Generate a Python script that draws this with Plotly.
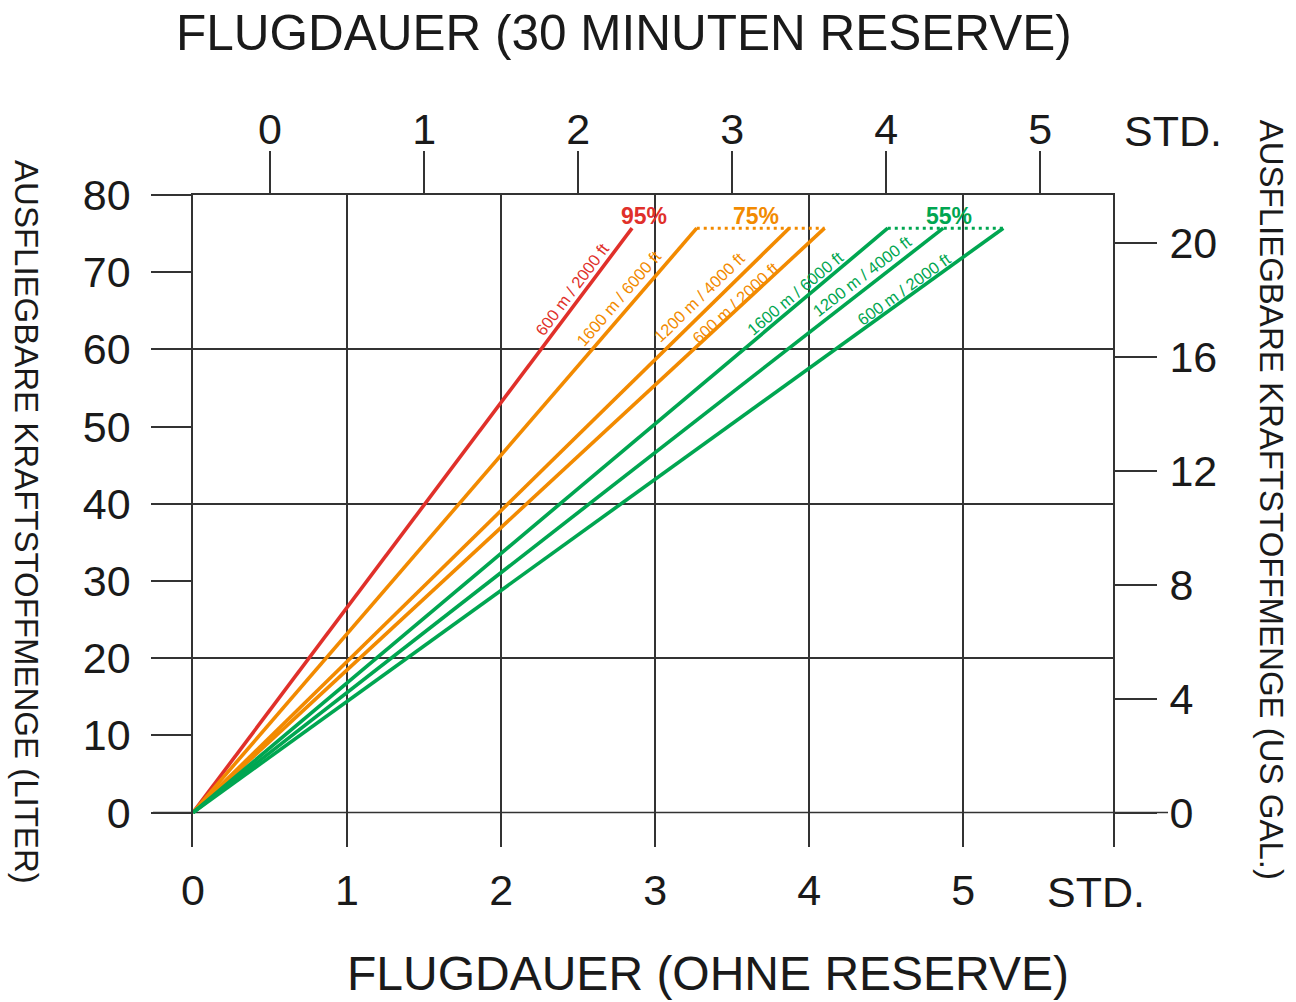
import math
import plotly.graph_objects as go

# ---------------- data ----------------
usable_fuel_l = 75.7                      # litres (= 20 US gal) at the end of each line
altitudes = ["1600 m / 6000 ft", "1200 m / 4000 ft", "600 m / 2000 ft"]
power_95_alt = ["600 m / 2000 ft"]
power_95_hours = [2.85]
power_75_hours = [3.27, 3.87, 4.10]
power_55_hours = [4.51, 4.87, 5.26]

bottom_ticks = [0, 1, 2, 3, 4, 5]
top_ticks = [0, 1, 2, 3, 4, 5]
liter_ticks = [0, 10, 20, 30, 40, 50, 60, 70, 80]
liter_grid = [20, 40, 60]
gal_ticks = [0, 4, 8, 12, 16, 20]
reserve_h = 0.5

# ---------------- style / layout ----------------
RED, ORANGE, GREEN = "#e0302a", "#f28a00", "#00a651"
INK = "#1a1a1a"
GRID = "#333333"
FONT = "Liberation Sans, Arial, sans-serif"

W, H = 1296, 1002
L, R, T, B = 193, 183.3, 195, 155
pw, ph = W - L - R, H - T - B
px_per_h = 154.0
px_per_l = 7.71875
px_per_gal = 28.5
x_range = [0, pw / px_per_h]
y0_px_from_bottom = 34.5
y_range = [-y0_px_from_bottom / px_per_l, (ph - y0_px_from_bottom) / px_per_l]
y2_range = [-y0_px_from_bottom / px_per_gal, (ph - y0_px_from_bottom) / px_per_gal]

fig = go.Figure()

def add_line(hours, color, name):
    fig.add_trace(go.Scatter(x=[0, hours], y=[0, usable_fuel_l], mode="lines",
                             line=dict(color=color, width=3.6), name=name,
                             showlegend=False, hoverinfo="skip"))

for h, a in zip(power_95_hours, power_95_alt):
    add_line(h, RED, "95% " + a)
for h, a in zip(power_75_hours, altitudes):
    add_line(h, ORANGE, "75% " + a)
for h, a in zip(power_55_hours, altitudes):
    add_line(h, GREEN, "55% " + a)

# dotted connections at max fuel level
for hrs, col in [(power_75_hours, ORANGE), (power_55_hours, GREEN)]:
    fig.add_trace(go.Scatter(x=[min(hrs), max(hrs)], y=[usable_fuel_l, usable_fuel_l],
                             mode="lines", line=dict(color=col, width=3, dash="3px,4px"),
                             showlegend=False, hoverinfo="skip"))

# dummy traces so the auxiliary axes are created
fig.add_trace(go.Scatter(x=[None], y=[None], xaxis="x2", yaxis="y", showlegend=False))
fig.add_trace(go.Scatter(x=[None], y=[None], xaxis="x", yaxis="y2", showlegend=False))
fig.add_trace(go.Scatter(x=[None], y=[None], xaxis="x", yaxis="y3", showlegend=False))

tickfont = dict(family=FONT, size=43, color=INK)

fig.update_layout(
    width=W, height=H, margin=dict(l=L, r=R, t=T, b=B),
    paper_bgcolor="white", plot_bgcolor="white", showlegend=False,
    xaxis=dict(range=x_range, tickvals=bottom_ticks, ticktext=[str(v) for v in bottom_ticks],
               showgrid=True, gridcolor=GRID, gridwidth=1.6, zeroline=False,
               showline=False, ticks="", tickfont=tickfont, ticklabelstandoff=14,
               fixedrange=True),
    xaxis2=dict(overlaying="x", side="top", anchor="y",
                range=[x_range[0] - reserve_h, x_range[1] - reserve_h],
                tickvals=top_ticks, ticktext=[str(v) for v in top_ticks],
                showgrid=False, zeroline=False, showline=True, linecolor=GRID, linewidth=1.6,
                ticks="outside", ticklen=42, tickwidth=1.6, tickcolor=GRID,
                tickfont=tickfont, ticklabelstandoff=-10),
    yaxis=dict(range=y_range, tickvals=liter_ticks, ticktext=[str(v) for v in liter_ticks],
               showgrid=False, zeroline=False, showline=True, linecolor=GRID, linewidth=1.6,
               ticks="outside", ticklen=40, tickwidth=1.6, tickcolor=GRID,
               tickfont=tickfont, ticklabelstandoff=12),
    yaxis2=dict(overlaying="y", side="right", anchor="x", range=y2_range,
                tickvals=gal_ticks, ticktext=[str(v) for v in gal_ticks],
                showgrid=False, zeroline=False, showline=True, linecolor=GRID, linewidth=1.6,
                ticks="outside", ticklen=42, tickwidth=1.6, tickcolor=GRID,
                tickfont=tickfont, ticklabelstandoff=4),
    yaxis3=dict(overlaying="y", side="left", anchor="x", range=y_range,
                tickvals=liter_grid, showticklabels=False, ticks="",
                showgrid=True, gridcolor=GRID, gridwidth=1.6, zeroline=False, showline=False),
)

# zero line, extended beyond the frame on both sides
fig.add_shape(type="line", xref="paper", yref="y", x0=-40 / pw, x1=1 + 55 / pw, y0=0, y1=0,
              line=dict(color=GRID, width=1.6), layer="below")

def paper_x(px):
    return (px - L) / pw

def paper_y(py):
    return (H - B - py) / ph

ann = []
ann.append(dict(text="FLUGDAUER (30 MINUTEN RESERVE)", x=paper_x(624), y=paper_y(32),
                font=dict(family=FONT, size=49.5, color=INK)))
ann.append(dict(text="FLUGDAUER (OHNE RESERVE)", x=paper_x(708), y=paper_y(973),
                font=dict(family=FONT, size=48, color=INK)))
ann.append(dict(text="AUSFLIEGBARE KRAFTSTOFFMENGE (LITER)", x=paper_x(27), y=paper_y(522),
                textangle=90, font=dict(family=FONT, size=33, color=INK)))
ann.append(dict(text="AUSFLIEGBARE KRAFTSTOFFMENGE (US GAL.)", x=paper_x(1272), y=paper_y(500),
                textangle=90, font=dict(family=FONT, size=33, color=INK)))
ann.append(dict(text="STD.", x=paper_x(1173), y=paper_y(131), font=tickfont))
ann.append(dict(text="STD.", x=paper_x(1096), y=paper_y(892), font=tickfont))
for a in ann:
    a.update(xref="paper", yref="paper", showarrow=False, xanchor="center", yanchor="middle")
    fig.add_annotation(**a)

# percentage labels
pct_labels = [("95%", 643.7, RED), ("75%", 755.8, ORANGE), ("55%", 949.2, GREEN)]
for txt, px, col in pct_labels:
    fig.add_annotation(text="<b>" + txt + "</b>", x=(px - L) / px_per_h,
                       y=(812.5 - 216) / px_per_l, xref="x", yref="y", showarrow=False,
                       xanchor="center", yanchor="middle",
                       font=dict(family=FONT, size=23, color=col))

# rotated altitude labels along each line
line_labels = [
    ("600 m / 2000 ft", power_95_hours[0], RED, 572.3, 289.3),
    ("1600 m / 6000 ft", power_75_hours[0], ORANGE, 619.0, 298.3),
    ("1200 m / 4000 ft", power_75_hours[1], ORANGE, 699.0, 296.7),
    ("600 m / 2000 ft", power_75_hours[2], ORANGE, 735.0, 302.5),
    ("1600 m / 6000 ft", power_55_hours[0], GREEN, 795.0, 292.7),
    ("1200 m / 4000 ft", power_55_hours[1], GREEN, 861.7, 275.7),
    ("600 m / 2000 ft", power_55_hours[2], GREEN, 904.0, 289.3),
]
for txt, hrs, col, px, py in line_labels:
    ang = math.degrees(math.atan2(usable_fuel_l * px_per_l, hrs * px_per_h))
    fig.add_annotation(text=txt, x=(px - L) / px_per_h, y=(812.5 - py) / px_per_l,
                       xref="x", yref="y", showarrow=False, textangle=-ang,
                       xanchor="center", yanchor="middle",
                       font=dict(family=FONT, size=16.5, color=col))

fig.write_html("out.html", config={"displayModeBar": False},
               post_script="document.body.style.margin='0';")
